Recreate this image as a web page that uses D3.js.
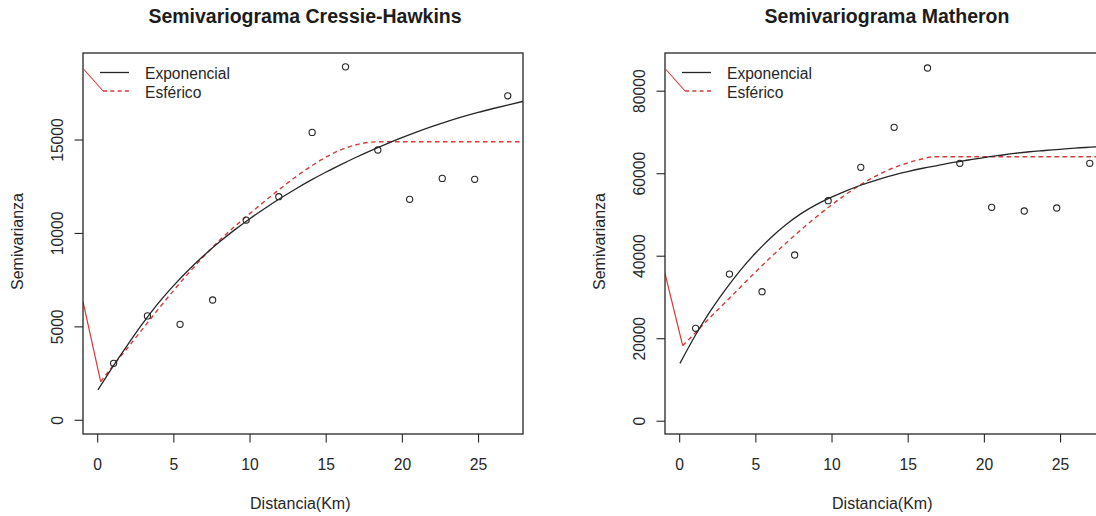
<!DOCTYPE html>
<html><head><meta charset="utf-8">
<script src="https://cdn.jsdelivr.net/npm/d3@7"></script>
<style>
html,body{margin:0;padding:0;background:#fff;}
svg{display:block;font-family:"Liberation Sans",Arial,Helvetica,sans-serif;}
</style></head><body>
<svg id="chart" width="1096" height="516"></svg>
<script>
// Empirical semivariogram: lag distance (km) and semivariance per estimator
const distancia = [1.08, 3.30, 5.44, 7.58, 9.78, 11.92, 14.11, 16.30, 18.42, 20.51, 22.65, 24.78, 26.95];
const semivarCH = [3020, 5560, 5110, 6410, 10690, 11940, 15380, 18890, 14440, 11800, 12920, 12870, 17340];
const semivarMatheron = [22400, 35560, 31270, 40170, 53330, 61430, 71130, 85500, 62400, 51730, 50840, 51560, 62400];

// Fitted exponential models, sampled along distance
const modelDist = [0.05, 1, 2, 3, 4, 5, 6, 7, 8, 9, 10, 11, 12, 13, 14, 15, 16, 17, 18, 19, 20, 21, 22, 23, 24, 25, 26, 27, 28];
const expCH = [1600, 2810, 4010, 5170, 6230, 7170, 8020, 8790, 9500, 10150, 10750, 11310, 11840, 12340, 12810, 13250, 13660, 14050, 14420, 14770, 15100, 15410, 15700, 15970, 16220, 16450, 16660, 16860, 17050];
const expMatheron = [13900, 20300, 26300, 31600, 36400, 40600, 44300, 47500, 50200, 52400, 54200, 55800, 57200, 58400, 59500, 60400, 61200, 61900, 62600, 63200, 63800, 64300, 64800, 65200, 65500, 65800, 66100, 66300, 66500];

// Fitted spherical models (flat beyond the range)
const sphDistCH = [0.23, 1, 2, 3, 4, 5, 6, 7, 8, 9, 10, 11, 12, 13, 14, 15, 16, 17, 18, 18.6, 28];
const sphCH = [2040, 2850, 3850, 4880, 5910, 6900, 7850, 8750, 9580, 10330, 11020, 11700, 12360, 12980, 13550, 14050, 14450, 14720, 14860, 14880, 14880];
const sphDistMatheron = [0.23, 1, 2, 3, 4, 5, 6, 7, 8, 9, 10, 11, 12, 13, 14, 15, 16, 16.8, 28];
const sphMatheron = [18200, 21100, 24900, 28600, 32300, 36000, 39600, 43000, 46300, 49400, 52300, 55000, 57400, 59500, 61200, 62500, 63500, 64000, 64000];

// Red lead-in segment running from the left frame into the spherical curve
const leadDistCH = [-0.93, 0.23];
const leadCH = [6320, 2040];
const leadDistMatheron = [-0.93, 0.23];
const leadMatheron = [35700, 18200];

const xTicks = [0, 5, 10, 15, 20, 25];
const yTicksCH = [0, 5000, 10000, 15000];
const yTicksMatheron = [0, 20000, 40000, 60000, 80000];
const legendLabels = ["Exponencial", "Esférico"];
const titles = ["Semivariograma Cressie-Hawkins", "Semivariograma Matheron"];
const xLabel = "Distancia(Km)";
const yLabel = "Semivarianza";

const INK = "#262626";
const RED = "#d43b3b";
const AXIS_FS = 15.7;

const panels = [
  { title: titles[0], left: 83, right: 523, yDomain: [-760, 19630], yTicks: yTicksCH,
    pts: semivarCH, exp: expCH, sphX: sphDistCH, sph: sphCH, leadX: leadDistCH, lead: leadCH },
  { title: titles[1], left: 665, right: 1105, yDomain: [-3220, 89140], yTicks: yTicksMatheron,
    pts: semivarMatheron, exp: expMatheron, sphX: sphDistMatheron, sph: sphMatheron, leadX: leadDistMatheron, lead: leadMatheron }
];

const plotTop = 53, plotBottom = 434;
const svg = d3.select("#chart");

panels.forEach((p, i) => {
  const x = d3.scaleLinear().domain([-0.93, 27.95]).range([p.left, p.right]);
  const y = d3.scaleLinear().domain(p.yDomain).range([plotBottom, plotTop]);
  const g = svg.append("g");
  const cx = (p.left + p.right) / 2;

  const clipId = "clip" + i;
  g.append("clipPath").attr("id", clipId).append("rect")
    .attr("x", p.left).attr("y", plotTop).attr("width", p.right - p.left).attr("height", plotBottom - plotTop);

  // title
  g.append("text").attr("x", cx + 2).attr("y", 23.3).attr("text-anchor", "middle")
    .attr("font-weight", "bold").attr("font-size", 19.5).attr("fill", "#1c1c1c").text(p.title);

  // x axis
  const xa = g.append("g").attr("transform", `translate(0,${plotBottom})`)
    .call(d3.axisBottom(x).tickValues(xTicks).tickSize(8.5).tickSizeOuter(0).tickPadding(0).tickFormat(d3.format("d")));
  xa.select(".domain").remove();
  xa.selectAll("line").attr("stroke", INK).attr("stroke-width", 1.1);
  xa.selectAll("text").attr("y", 36).attr("dy", 0).attr("font-size", AXIS_FS).attr("fill", INK)
    .attr("font-family", "Liberation Sans, Arial, sans-serif");

  // y axis with rotated labels
  const ya = g.append("g").attr("transform", `translate(${p.left},0)`)
    .call(d3.axisLeft(y).tickValues(p.yTicks).tickSize(8.5).tickSizeOuter(0).tickFormat(d3.format("d")));
  ya.select(".domain").remove();
  ya.selectAll("line").attr("stroke", INK).attr("stroke-width", 1.1);
  ya.selectAll("text").attr("x", 0).attr("y", -20.5).attr("dy", 0)
    .attr("transform", "rotate(-90)").attr("text-anchor", "middle")
    .attr("font-size", AXIS_FS).attr("fill", INK)
    .attr("font-family", "Liberation Sans, Arial, sans-serif");

  // axis titles
  g.append("text").attr("x", cx - 2.7).attr("y", 508.5).attr("text-anchor", "middle")
    .attr("font-size", 16).attr("fill", INK).text(xLabel);
  g.append("text").attr("transform", `translate(${p.left - 60.5},${(plotTop + plotBottom) / 2 - 2}) rotate(-90)`)
    .attr("text-anchor", "middle").attr("font-size", 16).attr("fill", INK).text(yLabel);

  const plot = g.append("g").attr("clip-path", `url(#${clipId})`);
  const line = d3.line().x(d => x(d[0])).y(d => y(d[1])).curve(d3.curveMonotoneX);

  // lead-in red segment
  plot.append("path").datum(d3.zip(p.leadX, p.lead))
    .attr("d", d3.line().x(d => x(d[0])).y(d => y(d[1])))
    .attr("fill", "none").attr("stroke", RED).attr("stroke-width", 1.2);

  // spherical model
  plot.append("path").datum(d3.zip(p.sphX, p.sph)).attr("d", line)
    .attr("fill", "none").attr("stroke", RED).attr("stroke-width", 1.4).attr("stroke-dasharray", "4.5,3.5");

  // exponential model
  plot.append("path").datum(d3.zip(modelDist, p.exp)).attr("d", line)
    .attr("fill", "none").attr("stroke", INK).attr("stroke-width", 1.3);

  // empirical points
  plot.selectAll("circle.pt").data(d3.zip(distancia, p.pts)).join("circle")
    .attr("class", "pt").attr("cx", d => x(d[0])).attr("cy", d => y(d[1])).attr("r", 3.1)
    .attr("fill", "none").attr("stroke", INK).attr("stroke-width", 1.1);

  // legend
  const lx0 = p.left + 17, lx1 = p.left + 46, ly1 = 72.5, ly2 = 91;
  const leg = g.append("g");
  leg.append("line").attr("x1", lx0).attr("x2", lx1).attr("y1", ly1).attr("y2", ly1)
    .attr("stroke", INK).attr("stroke-width", 1.3);
  leg.append("line").attr("x1", lx0 + 3).attr("x2", lx1).attr("y1", ly2).attr("y2", ly2)
    .attr("stroke", RED).attr("stroke-width", 1.4).attr("stroke-dasharray", "4,3.3");
  leg.append("line").attr("x1", p.left + 1).attr("y1", 69.5).attr("x2", lx0 + 3).attr("y2", ly2)
    .attr("stroke", RED).attr("stroke-width", 1.1);
  leg.selectAll("text.lg").data(legendLabels).join("text").attr("class", "lg")
    .attr("x", lx1 + 16).attr("y", (d, k) => k === 0 ? 79.3 : 97.5)
    .attr("font-size", 15.6).attr("fill", INK).text(d => d);

  // frame
  g.append("rect").attr("x", p.left).attr("y", plotTop).attr("width", p.right - p.left).attr("height", plotBottom - plotTop)
    .attr("fill", "none").attr("stroke", INK).attr("stroke-width", 1.3);
});
</script>
</body></html>
